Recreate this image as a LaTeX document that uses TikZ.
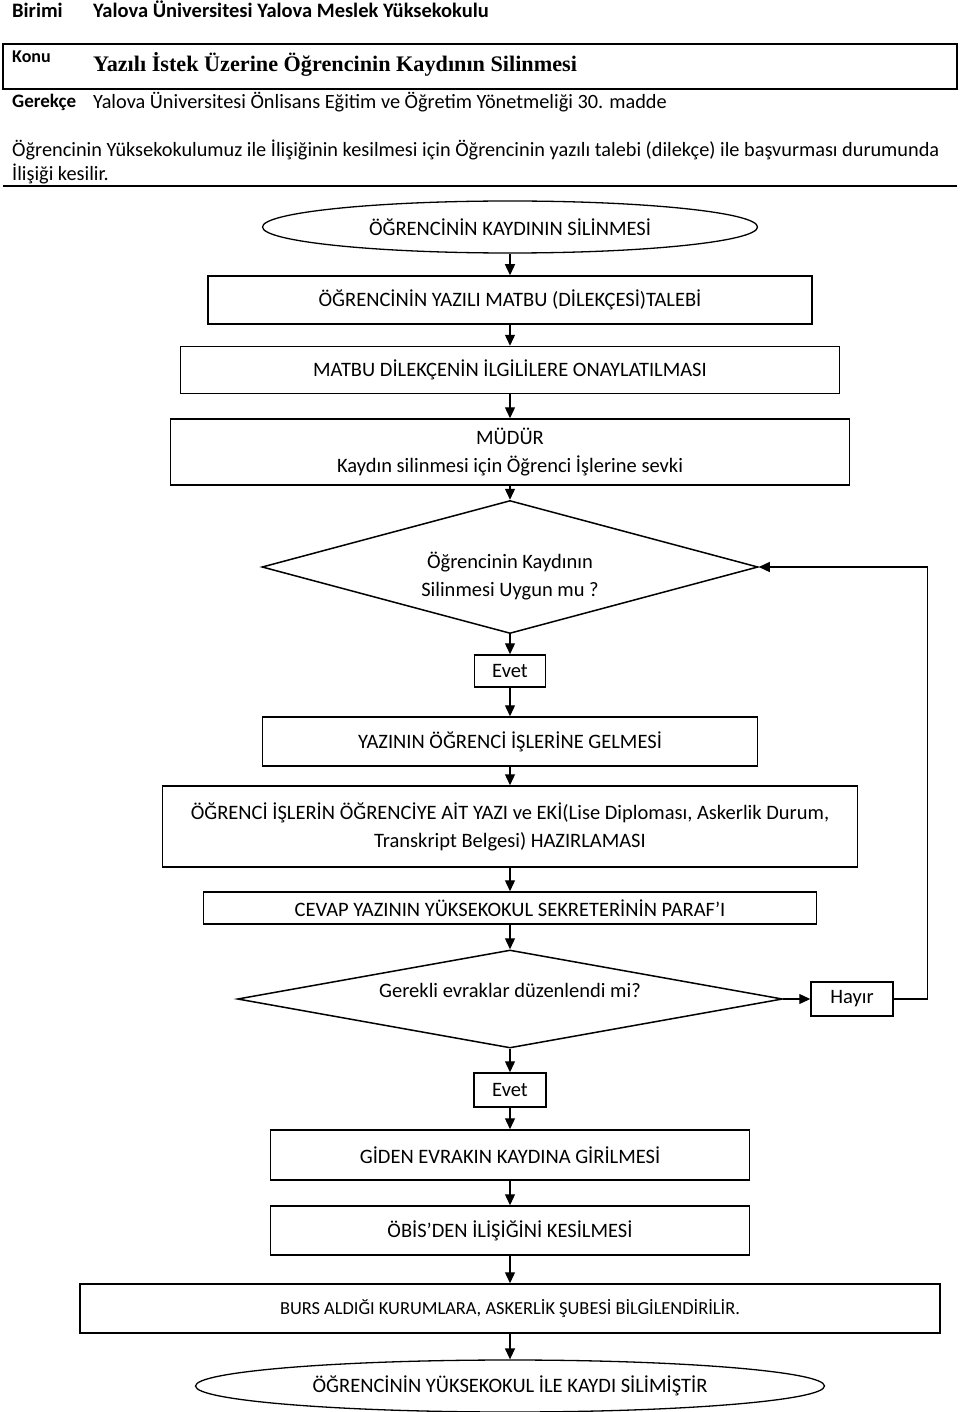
\documentclass[tikz,border=0pt]{standalone}
\usepackage{fontspec}
\setmainfont{Carlito}
\newfontfamily\titlefont{Liberation Serif}
\usetikzlibrary{shapes.geometric,arrows.meta}

\tikzset{
  boxfont/.style={font=\fontsize{20.5}{28}\selectfont},
  stepbox/.style={draw,line width=1.5pt,rectangle,inner sep=0pt,align=center,boxfont},
  endbox/.style={draw,line width=1.3pt,ellipse,inner sep=0pt,align=center,boxfont},
  askbox/.style={draw,line width=1.5pt,diamond,inner sep=0pt,boxfont},
  flowline/.style={line width=1.3pt,-{Triangle[length=11pt,width=10pt]}}
}

\begin{document}
\begin{tikzpicture}[x=1pt,y=-1pt]
\useasboundingbox (0,0) rectangle (960,1412);

% Header
\node[anchor=base west,inner sep=0pt,font=\fontsize{20.5}{22}\selectfont\bfseries] (birimi) at (12,18) {Birimi};
\node[anchor=base west,inner sep=0pt,font=\fontsize{20.5}{22}\selectfont\bfseries] (birim) at (93,18) {Yalova Üniversitesi Yalova Meslek Yüksekokulu};
\draw[line width=1.3pt] (3,44) rectangle (957,89);
\node[anchor=base west,inner sep=0pt,font=\fontsize{18}{20}\selectfont\bfseries] (konu) at (12,63) {Konu};
\node[anchor=base west,inner sep=0pt,font=\fontsize{22.2}{24}\selectfont\titlefont\bfseries] (baslik) at (93,72) {Yazılı İstek Üzerine Öğrencinin Kaydının Silinmesi};
\node[anchor=base west,inner sep=0pt,font=\fontsize{19}{20}\selectfont\bfseries] (gerekce) at (12,108) {Gerekçe};
\node[anchor=base west,inner sep=0pt,font=\fontsize{20.3}{22}\selectfont] (yonetmelik) at (93,109) {Yalova Üniversitesi Önlisans Eğitim ve Öğretim Yönetmeliği 30. madde};
\node[anchor=base west,inner sep=0pt,font=\fontsize{20.3}{22}\selectfont] (aciklama1) at (12,157) {Öğrencinin Yüksekokulumuz ile İlişiğinin kesilmesi için Öğrencinin yazılı talebi (dilekçe) ile başvurması durumunda};
\node[anchor=base west,inner sep=0pt,font=\fontsize{20.3}{22}\selectfont] (aciklama2) at (12,181) {İlişiği kesilir.};
\draw[line width=1.3pt] (3,186) -- (957,186);

% Flow nodes
\node[endbox,minimum width=495pt,minimum height=52pt] (start) at (510,227) {ÖĞRENCİNİN KAYDININ SİLİNMESİ};
\node[stepbox,minimum width=604pt,minimum height=48pt] (talep) at (510,300) {ÖĞRENCİNİN YAZILI MATBU (DİLEKÇESİ)TALEBİ};
\node[stepbox,minimum width=659pt,minimum height=47pt] (onay) at (510,370) {MATBU DİLEKÇENİN İLGİLİLERE ONAYLATILMASI};
\node[stepbox,minimum width=679pt,minimum height=66pt] (mudur) at (510,452) {MÜDÜR\\Kaydın silinmesi için Öğrenci İşlerine sevki};
\node[askbox,minimum width=496pt,minimum height=133pt] (uygun) at (510,567) {};
\node[align=center,boxfont] (uygunq) at (510,576) {Öğrencinin Kaydının\\Silinmesi Uygun mu ?};
\node[stepbox,minimum width=71pt,minimum height=32pt] (evet1) at (510,671) {Evet};
\node[stepbox,minimum width=495pt,minimum height=49pt] (gelme) at (510,741.5) {YAZININ ÖĞRENCİ İŞLERİNE GELMESİ};
\node[stepbox,minimum width=695pt,minimum height=81pt] (hazir) at (510,826.5) {ÖĞRENCİ İŞLERİN ÖĞRENCİYE AİT YAZI ve EKİ(Lise Diploması, Askerlik Durum,\\Transkript Belgesi) HAZIRLAMASI};
\node[stepbox,minimum width=613pt,minimum height=32pt] (paraf) at (510,908) {CEVAP YAZININ YÜKSEKOKUL SEKRETERİNİN PARAF’I};
\node[askbox,minimum width=545pt,minimum height=98pt] (gerekli) at (510,999) {};
\node[boxfont] (gerekliq) at (510,990) {Gerekli evraklar düzenlendi mi?};
\node[stepbox,minimum width=82pt,minimum height=34pt] (hayir) at (852,999) {Hayır};
\node[stepbox,minimum width=72pt,minimum height=34pt] (evet2) at (510,1090) {Evet};
\node[stepbox,minimum width=479pt,minimum height=50pt] (giden) at (510,1155) {GİDEN EVRAKIN KAYDINA GİRİLMESİ};
\node[stepbox,minimum width=479pt,minimum height=49pt] (obis) at (510,1230.5) {ÖBİS’DEN İLİŞİĞİNİ KESİLMESİ};
\node[stepbox,minimum width=860pt,minimum height=49pt,font=\fontsize{18.4}{20}\selectfont] (burs) at (510,1308.5) {BURS ALDIĞI KURUMLARA, ASKERLİK ŞUBESİ BİLGİLENDİRİLİR.};
\node[endbox,minimum width=629pt,minimum height=52pt] (son) at (510,1386) {ÖĞRENCİNİN YÜKSEKOKUL İLE KAYDI SİLİMİŞTİR};

% Connectors
\draw[flowline] (start) -- (talep);
\draw[flowline] (talep) -- (onay);
\draw[flowline] (onay) -- (mudur);
\draw[flowline] (mudur) -- (uygun.north);
\draw[flowline] (uygun.south) -- (evet1);
\draw[flowline] (evet1) -- (gelme);
\draw[flowline] (gelme) -- (hazir);
\draw[flowline] (hazir) -- (paraf);
\draw[flowline] (paraf) -- (gerekli.north);
\draw[flowline] (gerekli.east) -- (hayir.west);
\draw[flowline] (hayir.east) -- ++(34,0) |- (uygun.east);
\draw[flowline] (gerekli.south) -- (evet2);
\draw[flowline] (evet2) -- (giden);
\draw[flowline] (giden) -- (obis);
\draw[flowline] (obis) -- (burs);
\draw[flowline] (burs) -- (son);

\end{tikzpicture}
\end{document}
